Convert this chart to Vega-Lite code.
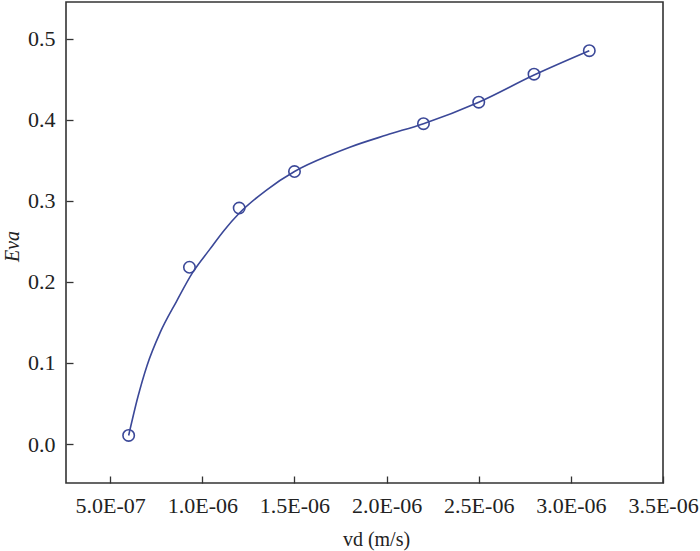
{
  "$schema": "https://vega.github.io/schema/vega-lite/v6.json",
  "width": 597,
  "height": 481,
  "autosize": {"type": "none"},
  "padding": {"left": 66, "top": 2, "right": 37, "bottom": 68},
  "background": "white",
  "config": {
    "view": {"stroke": "#333333", "strokeWidth": 1.6},
    "axis": {
      "domain": false,
      "grid": false,
      "labelFont": "Liberation Serif, Times New Roman, serif",
      "labelFontSize": 22,
      "labelColor": "#222222",
      "labelOverlap": false,
      "labelFlush": false,
      "titleFont": "Liberation Serif, Times New Roman, serif",
      "titleFontSize": 20,
      "titleFontWeight": "normal",
      "titleColor": "#222222",
      "tickColor": "#333333",
      "tickWidth": 1.3,
      "tickSize": -7
    }
  },
  "datasets": {
    "curve": [
      {"vd": 6.0e-7, "eva": 0.0106},
      {"vd": 6.5e-7, "eva": 0.058},
      {"vd": 7.0e-7, "eva": 0.097},
      {"vd": 7.7e-7, "eva": 0.137},
      {"vd": 8.6e-7, "eva": 0.176},
      {"vd": 9.46e-7, "eva": 0.211},
      {"vd": 1.04e-6, "eva": 0.240},
      {"vd": 1.12e-6, "eva": 0.264},
      {"vd": 1.2e-6, "eva": 0.2845},
      {"vd": 1.35e-6, "eva": 0.3135},
      {"vd": 1.5e-6, "eva": 0.336},
      {"vd": 1.7e-6, "eva": 0.357},
      {"vd": 1.8e-6, "eva": 0.366},
      {"vd": 2.0e-6, "eva": 0.381},
      {"vd": 2.2e-6, "eva": 0.395},
      {"vd": 2.5e-6, "eva": 0.4215},
      {"vd": 2.8e-6, "eva": 0.455},
      {"vd": 3.1e-6, "eva": 0.485}
    ],
    "points": [
      {"vd": 6.0e-7, "eva": 0.0106},
      {"vd": 9.3e-7, "eva": 0.218},
      {"vd": 1.2e-6, "eva": 0.291},
      {"vd": 1.5e-6, "eva": 0.336},
      {"vd": 2.2e-6, "eva": 0.395},
      {"vd": 2.5e-6, "eva": 0.4215},
      {"vd": 2.8e-6, "eva": 0.456},
      {"vd": 3.1e-6, "eva": 0.485}
    ]
  },
  "layer": [
    {
      "data": {"name": "curve"},
      "mark": {"type": "line", "interpolate": "monotone", "color": "#3b4898", "strokeWidth": 1.6, "clip": true},
      "encoding": {
        "x": {
          "field": "vd", "type": "quantitative",
          "scale": {"domain": [2.6e-7, 3.5e-6], "nice": false, "zero": false},
          "axis": {
            "values": [5e-7, 1e-6, 1.5e-6, 2e-6, 2.5e-6, 3e-6, 3.5e-6],
            "labelExpr": "format(datum.value/pow(10,floor(log(datum.value)/LN10+1e-9)),'.1f') + 'E-0' + (-floor(log(datum.value)/LN10+1e-9))",
            "labelPadding": 19,
            "labelBaseline": "top",
            "title": "vd (m/s)",
            "titleBaseline": "alphabetic",
            "titleX": 310,
            "titleY": 62
          }
        },
        "y": {
          "field": "eva", "type": "quantitative",
          "scale": {"domain": [-0.048, 0.545], "nice": false, "zero": false},
          "axis": {
            "values": [0, 0.1, 0.2, 0.3, 0.4, 0.5],
            "format": ".1f",
            "labelPadding": 18,
            "title": "Eva",
            "titleFontStyle": "italic",
            "titleAlign": "center",
            "titleBaseline": "middle",
            "titleAngle": -90,
            "titleX": -54,
            "titleY": 244
          }
        }
      }
    },
    {
      "data": {"name": "points"},
      "mark": {"type": "point", "shape": "circle", "filled": false, "size": 130, "color": "#3b4898", "strokeWidth": 1.6, "opacity": 1},
      "encoding": {
        "x": {"field": "vd", "type": "quantitative"},
        "y": {"field": "eva", "type": "quantitative"}
      }
    }
  ]
}
